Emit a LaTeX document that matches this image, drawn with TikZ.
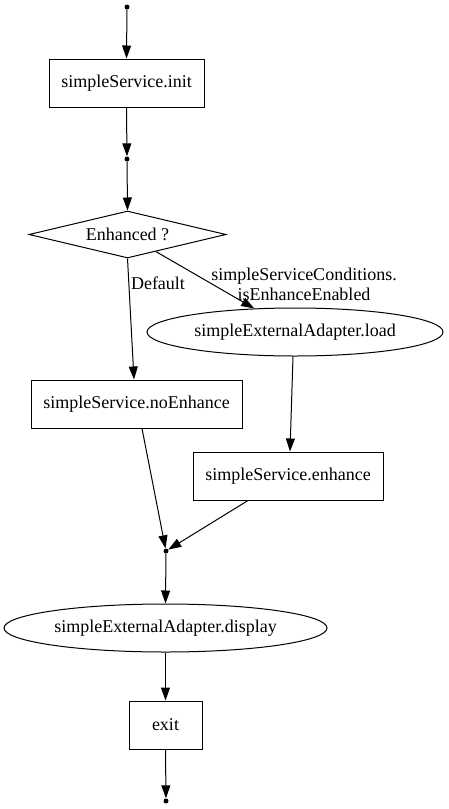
\documentclass[tikz,border=0pt]{standalone}
\usepackage{fontspec}
\setmainfont{Liberation Serif}
\usetikzlibrary{shapes.geometric,arrows.meta}
\begin{document}
\begin{tikzpicture}[x=1pt,y=-1pt,
  every node/.style={font=\fontsize{18}{20}\selectfont, inner sep=0pt},
  box/.style={draw, line width=1pt, rectangle, minimum height=48pt},
  oval/.style={draw, line width=1pt, ellipse, minimum height=48pt},
  decision/.style={draw, line width=1pt, diamond, shape aspect=4.2, minimum width=197pt, minimum height=47pt},
  pt/.style={circle, fill=black, minimum size=5pt},
  flow/.style={line width=1pt, -{Triangle[length=13pt,width=9pt]}},
  lbl/.style={align=center}]
\useasboundingbox (0,0) rectangle (448,809);
\node[pt] (s0) at (127,7) {};
\node[box, minimum width=155pt] (init) at (126.5,83) {simpleService.init};
\node[pt] (s1) at (127,159) {};
\node[decision] (dia) at (127.5,234.5) {Enhanced ?};
\node[oval, minimum width=296pt] (load) at (295,332) {simpleExternalAdapter.load};
\node[box, minimum width=211pt] (noe) at (136.5,404) {simpleService.noEnhance};
\node[box, minimum width=190pt] (enh) at (288,476) {simpleService.enhance};
\node[pt] (m) at (166,551) {};
\node[oval, minimum width=323pt] (disp) at (165.5,628) {simpleExternalAdapter.display};
\node[box, minimum width=73pt] (exit) at (165.5,725) {exit};
\node[pt] (s2) at (166,801) {};
\draw[flow] (s0) -- (init.north);
\draw[flow] (init.south) -- (s1);
\draw[flow] (s1) -- (dia.north);
\draw[flow] (dia.south) -- ([xshift=-2.5pt]noe.north);
\node[lbl] (ldef) at (158,283) {Default};
\draw[flow] (dia.-31) -- (load.150);
\node[lbl] (lcond) at (304,284) {simpleServiceConditions.\\isEnhanceEnabled};
\draw[flow] ([xshift=-2pt]load.south) -- ([xshift=2pt]enh.north);
\draw[flow] ([xshift=5.5pt]noe.south) -- (m);
\draw[flow] ([xshift=-40pt]enh.south) -- (m);
\draw[flow] (m) -- (disp.north);
\draw[flow] (disp.south) -- (exit.north);
\draw[flow] (exit.south) -- (s2);
\end{tikzpicture}
\end{document}
